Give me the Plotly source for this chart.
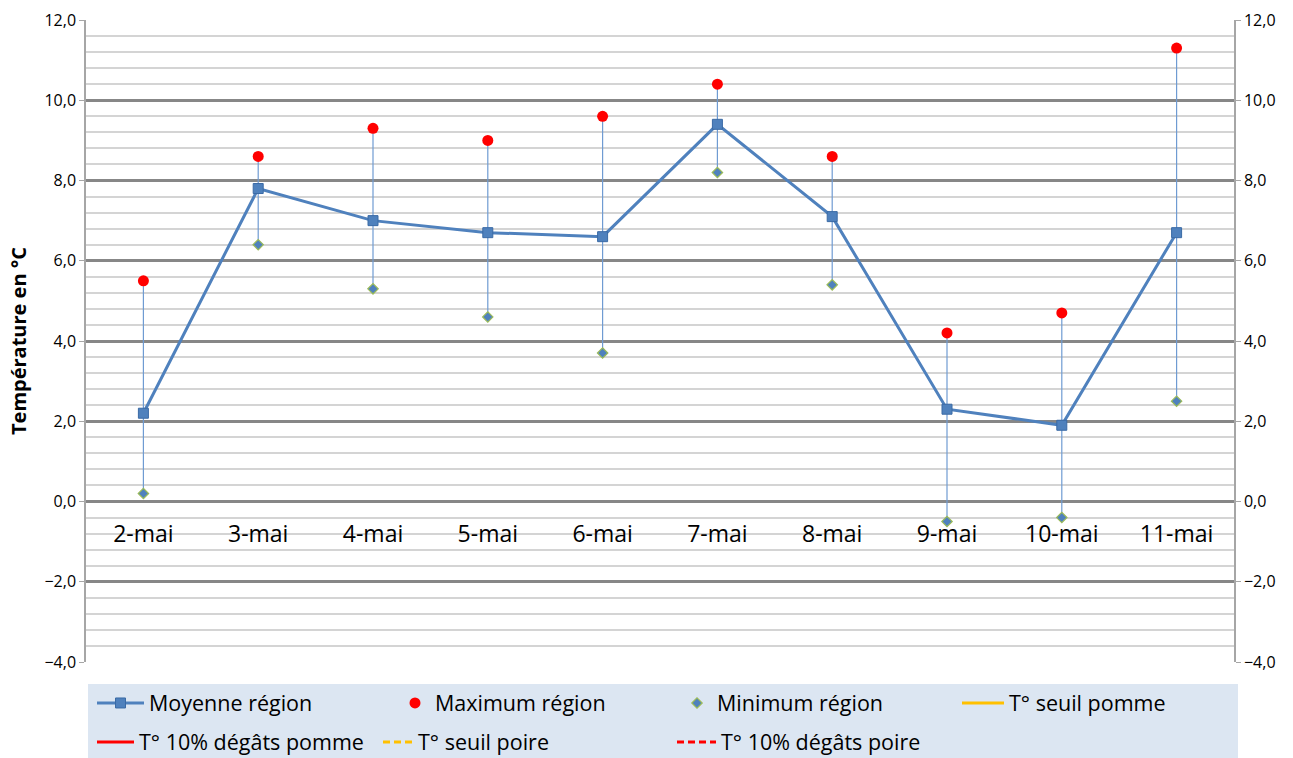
import plotly.graph_objects as go

# Daily regional temperatures (°C)
jours = ["2-mai", "3-mai", "4-mai", "5-mai", "6-mai", "7-mai", "8-mai", "9-mai", "10-mai", "11-mai"]
moyenne = [2.2, 7.8, 7.0, 6.7, 6.6, 9.4, 7.1, 2.3, 1.9, 6.7]
maximum = [5.5, 8.6, 9.3, 9.0, 9.6, 10.4, 8.6, 4.2, 4.7, 11.3]
minimum = [0.2, 6.4, 5.3, 4.6, 3.7, 8.2, 5.4, -0.5, -0.4, 2.5]

# Frost thresholds (no value in this period)
seuil_pomme = [None] * len(jours)
degats_pomme = [None] * len(jours)
seuil_poire = [None] * len(jours)
degats_poire = [None] * len(jours)

FONT = "Open Sans"
BLUE = "#4F81BD"

fig = go.Figure()

# High-low lines between daily min and max
hl_x, hl_y = [], []
for j, hi, lo in zip(jours, maximum, minimum):
    hl_x += [j, j, None]
    hl_y += [hi, lo, None]
fig.add_trace(go.Scatter(x=hl_x, y=hl_y, mode="lines",
                         line=dict(color="#6F9BD2", width=1.2),
                         showlegend=False, hoverinfo="skip"))

fig.add_trace(go.Scatter(x=jours, y=moyenne, mode="lines+markers", name="Moyenne région",
                         line=dict(color=BLUE, width=3),
                         marker=dict(symbol="square", size=10, color=BLUE,
                                     line=dict(color="#3A6AA5", width=1)),
                         legend="legend"))
fig.add_trace(go.Scatter(x=jours, y=maximum, mode="markers", name="Maximum région",
                         marker=dict(symbol="circle", size=11, color="#FF0000"),
                         legend="legend2"))
fig.add_trace(go.Scatter(x=jours, y=minimum, mode="markers", name="Minimum région",
                         marker=dict(symbol="diamond", size=8, color=BLUE,
                                     line=dict(color="#9BBB59", width=1.2)),
                         legend="legend3"))
fig.add_trace(go.Scatter(x=jours, y=seuil_pomme, mode="lines", name="T° seuil pomme",
                         line=dict(color="#FFC000", width=3), legend="legend4"))
fig.add_trace(go.Scatter(x=jours, y=degats_pomme, mode="lines", name="T° 10% dégâts pomme",
                         line=dict(color="#FF0000", width=3), legend="legend5"))
fig.add_trace(go.Scatter(x=jours, y=seuil_poire, mode="lines", name="T° seuil poire",
                         line=dict(color="#FFC000", width=3, dash="7px,4px"), legend="legend6"))
fig.add_trace(go.Scatter(x=jours, y=degats_poire, mode="lines", name="T° 10% dégâts poire",
                         line=dict(color="#FF0000", width=3, dash="7px,4px"), legend="legend7"))

# Mirror of the temperature scale on the right side
fig.add_trace(go.Scatter(x=jours, y=minimum, yaxis="y2", mode="markers",
                         marker=dict(opacity=0), showlegend=False, hoverinfo="skip"))

yax = dict(range=[-4, 12], dtick=2, tick0=0, tickformat=".1f",
           showline=True, linecolor="#A6A6A6", linewidth=1.5,
           ticks="outside", ticklen=5, tickcolor="#A6A6A6",
           tickfont=dict(family=FONT, size=16, color="#000000"),
           zeroline=False, fixedrange=True)

H = 642.0
W = 1148.0
def lx(px):
    return (px - 86) / W
r1 = (662 - 703) / H
r2 = (662 - 742) / H

def leg(x, y, iw):
    return dict(x=lx(x), y=y, orientation="h", bgcolor="rgba(0,0,0,0)",
                font=dict(family=FONT, size=21.5, color="#000000"),
                yanchor="middle", xanchor="left", itemwidth=iw)

fig.update_layout(
    width=1293, height=758,
    margin=dict(l=86, r=59, t=20, b=96, autoexpand=False),
    plot_bgcolor="#FFFFFF", paper_bgcolor="#FFFFFF",
    separators=",.",
    xaxis=dict(type="category", range=[-0.5, 9.5], showgrid=False, zeroline=False,
               anchor="free", position=0.25, showline=False, ticks="",
               ticklabelstandoff=16,
               tickfont=dict(family=FONT, size=23, color="#000000"), fixedrange=True),
    yaxis=dict(title=dict(text="<b>Température en °C</b>",
                          font=dict(family=FONT, size=20, color="#000000"), standoff=12),
               showgrid=True, gridcolor="#878787", gridwidth=2.5,
               minor=dict(dtick=0.4, tick0=0, showgrid=True, gridcolor="#D4D4D4", gridwidth=1.5),
               **yax),
    yaxis2=dict(overlaying="y", side="right", matches="y", showgrid=False, **yax),
    legend=leg(92, r1, 47),
    legend2=leg(395, r1, 30),
    legend3=leg(677, r1, 30),
    legend4=leg(957, r1, 42),
    legend5=leg(92, r2, 37),
    legend6=leg(378, r2, 30),
    legend7=leg(672, r2, 39),
    shapes=[dict(type="rect", xref="paper", yref="paper",
                 x0=lx(88), x1=lx(1238), y0=(662 - 684) / H, y1=(662 - 760) / H,
                 fillcolor="#DCE6F2", line=dict(width=0), layer="below")],
    showlegend=True,
)

fig.write_html("out.html")
